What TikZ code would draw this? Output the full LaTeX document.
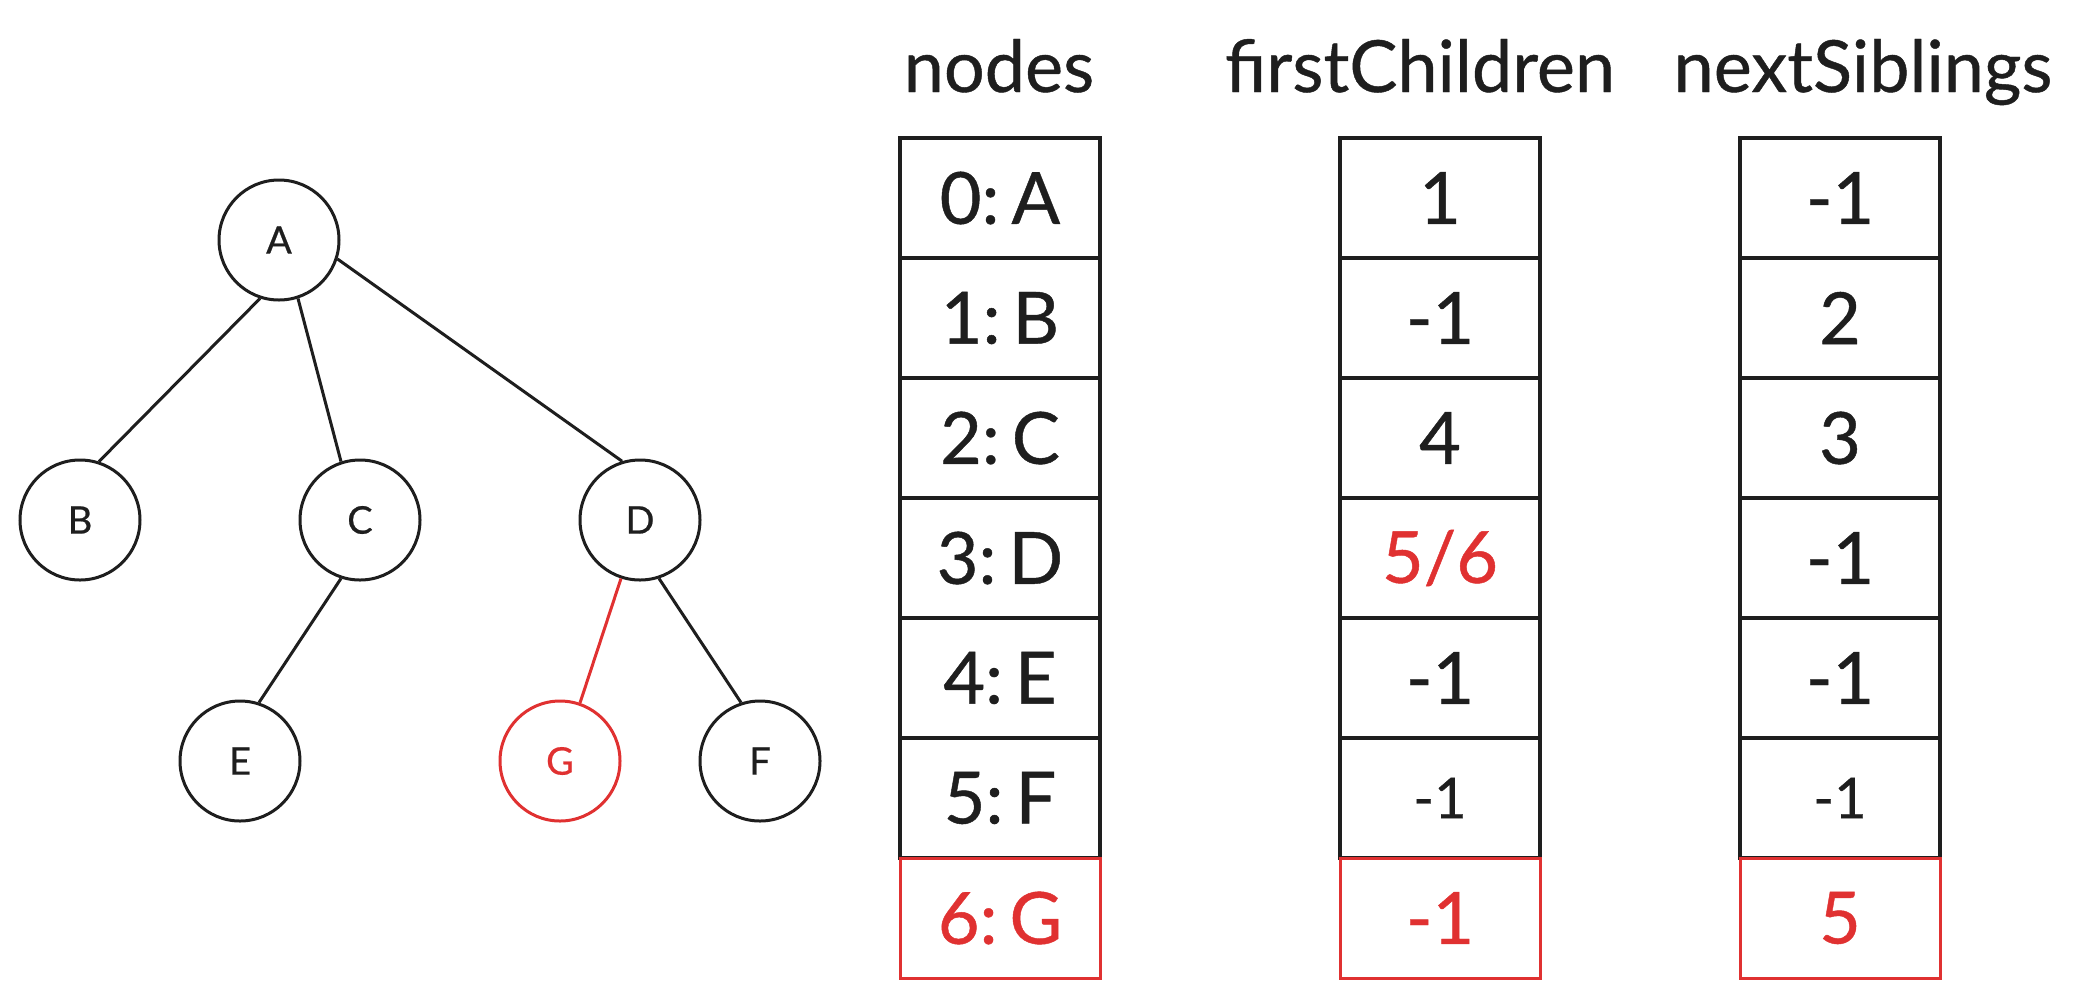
\documentclass[tikz,border=0pt]{standalone}
\usepackage{fontspec}
\setmainfont{Lato}[FakeBold=0.8,AutoFakeBold=0.8]
\newfontfamily\medium{Lato}[FakeBold=0.6]
\definecolor{exred}{HTML}{E03131}
\definecolor{exblack}{HTML}{1E1E1E}

\begin{document}
\begin{tikzpicture}[x=0.5pt,y=-0.5pt,
    vertex/.style={circle,draw=exblack,line width=1.5pt,minimum size=60pt,inner sep=0pt,text=exblack,font=\medium\fontsize{19}{20}\selectfont},
    cell/.style={rectangle,draw=exblack,line width=2pt,minimum width=100pt,minimum height=60pt,inner sep=0pt,text=exblack,font=\medium\fontsize{36}{40}\selectfont},
    small/.style={font=\medium\fontsize{28}{30}\selectfont},
    header/.style={anchor=base,text=exblack,font=\medium\fontsize{36}{40}\selectfont},
    link/.style={draw=exblack,line width=1.5pt},
    hot/.style={draw=exred,text=exred,line width=1.5pt}]
    \useasboundingbox (0,0) rectangle (2086,997);
    % tree
    \node[vertex] (A) at (279,240) {A};
    \node[vertex] (B) at (80,520) {B};
    \node[vertex] (C) at (360,520) {C};
    \node[vertex] (D) at (640,520) {D};
    \node[vertex] (E) at (240,761) {E};
    \node[vertex,hot] (G) at (560,761) {G};
    \node[vertex] (F) at (760,761) {F};
    \draw[link] (A.252) -- (B.72);
    \draw[link] (A.288) -- (C.108);
    \draw[link] (A.342) -- (D.107);
    \draw[link] (C.252) -- (E.72);
    \draw[link,draw=exred] (D.252) -- (G.71);
    \draw[link] (D.288) -- (F.108);
    % headers
    \node[header] (hn) at (999,92) {nodes};
    \node[header] (hc) at (1420,92) {firstChildren};
    \node[header] (hs) at (1863,92) {nextSiblings};
    % nodes
    \node[cell] (n0) at (1000,198) {0:\,A};
    \node[cell] (n1) at (1000,318) {1:\,B};
    \node[cell] (n2) at (1000,438) {2:\,C};
    \node[cell] (n3) at (1000,558) {3:\,D};
    \node[cell] (n4) at (1000,678) {4:\,E};
    \node[cell] (n5) at (1000,798) {5:\,F};
    % firstChildren
    \node[cell] (c0) at (1440,198) {1};
    \node[cell] (c1) at (1440,318) {-1};
    \node[cell] (c2) at (1440,438) {4};
    \node[cell,text=exred] (c3) at (1440,558) {5/6};
    \node[cell] (c4) at (1440,678) {-1};
    \node[cell,small] (c5) at (1440,798) {-1};
    % nextSiblings
    \node[cell] (s0) at (1840,198) {-1};
    \node[cell] (s1) at (1840,318) {2};
    \node[cell] (s2) at (1840,438) {3};
    \node[cell] (s3) at (1840,558) {-1};
    \node[cell] (s4) at (1840,678) {-1};
    \node[cell,small] (s5) at (1840,798) {-1};
    % new row
    \node[cell,hot] (n6) at (1000,918) {6:\,G};
    \node[cell,hot] (c6) at (1440,918) {-1};
    \node[cell,hot] (s6) at (1840,918) {5};
\end{tikzpicture}
\end{document}
